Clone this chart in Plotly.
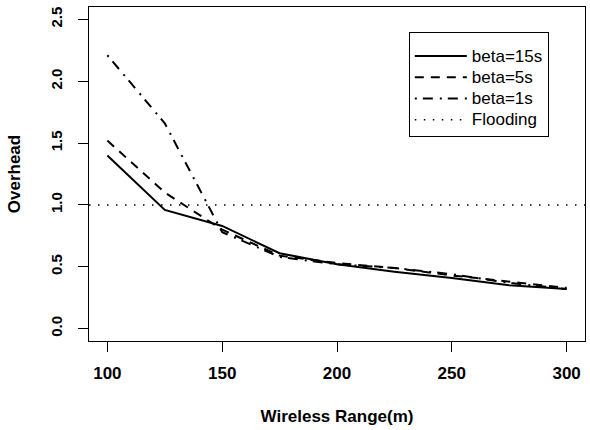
import plotly.graph_objects as go

# Wireless range (m) and measured overhead for each beta setting
wireless_range = [100, 125, 150, 175, 200, 225, 250, 275, 300]
beta_15s = [1.40, 0.96, 0.83, 0.61, 0.52, 0.46, 0.41, 0.35, 0.32]
beta_5s = [1.52, 1.10, 0.80, 0.59, 0.53, 0.49, 0.43, 0.38, 0.33]
beta_1s = [2.21, 1.66, 0.78, 0.58, 0.52, 0.49, 0.44, 0.37, 0.32]
flooding_level = 1.0

series_names = ["beta=15s", "beta=5s", "beta=1s", "Flooding"]

x_range = [92, 308]
y_range = [-0.1, 2.6]
x_ticks = [100, 150, 200, 250, 300]
y_ticks = [0.0, 0.5, 1.0, 1.5, 2.0, 2.5]

FONT = "Liberation Sans, Arial, sans-serif"


def legend_label(text):
    # larger glyphs than the legend's row-height font
    return f'<span style="font-size:17px">{text}</span>'


fig = go.Figure()
fig.add_trace(go.Scatter(x=wireless_range, y=beta_15s, mode="lines",
                         name=legend_label(series_names[0]),
                         line=dict(color="black", width=2)))
fig.add_trace(go.Scatter(x=wireless_range, y=beta_5s, mode="lines",
                         name=legend_label(series_names[1]),
                         line=dict(color="black", width=2, dash="9px,7px")))
fig.add_trace(go.Scatter(x=wireless_range, y=beta_1s, mode="lines",
                         name=legend_label(series_names[2]),
                         line=dict(color="black", width=2, dash="2px,6px,10px,7px")))
fig.add_trace(go.Scatter(x=x_range, y=[flooding_level] * 2, mode="lines",
                         name=legend_label(series_names[3]),
                         line=dict(color="black", width=1.5, dash="1.5px,7.5px")))

fig.update_layout(
    width=590, height=430,
    margin=dict(l=89, r=5, t=7, b=89),
    paper_bgcolor="white", plot_bgcolor="white",
    font=dict(family=FONT, color="black"),
    showlegend=True,
    legend=dict(
        x=0.6448, y=0.926, xanchor="left", yanchor="top",
        bordercolor="black", borderwidth=1, bgcolor="white",
        font=dict(family=FONT, size=14, color="black"),
        title=dict(text="\u00a0", font=dict(family=FONT, size=6)),
        itemwidth=52, tracegroupgap=0,
    ),
    xaxis=dict(
        range=x_range, tickvals=x_ticks, showgrid=False, zeroline=False,
        showline=True, mirror=True, linecolor="black", linewidth=1.2,
        ticks="outside", ticklen=10, tickwidth=1, tickcolor="black",
        tickfont=dict(family=FONT, size=17, color="black", weight="bold"),
        ticklabelstandoff=6,
        title=dict(text="Wireless Range(m)", standoff=28,
                   font=dict(family=FONT, size=17, color="black", weight="bold")),
    ),
    yaxis=dict(
        range=y_range, tickvals=y_ticks, tickformat=".1f", showgrid=False, zeroline=False,
        showline=True, mirror=True, linecolor="black", linewidth=1.2,
        ticks="outside", ticklen=10, tickwidth=1, tickcolor="black",
        tickangle=-90,
        tickfont=dict(family=FONT, size=15, color="black", weight="bold"),
        ticklabelstandoff=10,
        title=dict(text="Overhead", standoff=22,
                   font=dict(family=FONT, size=17, color="black", weight="bold")),
    ),
)

fig.write_html("out.html")
